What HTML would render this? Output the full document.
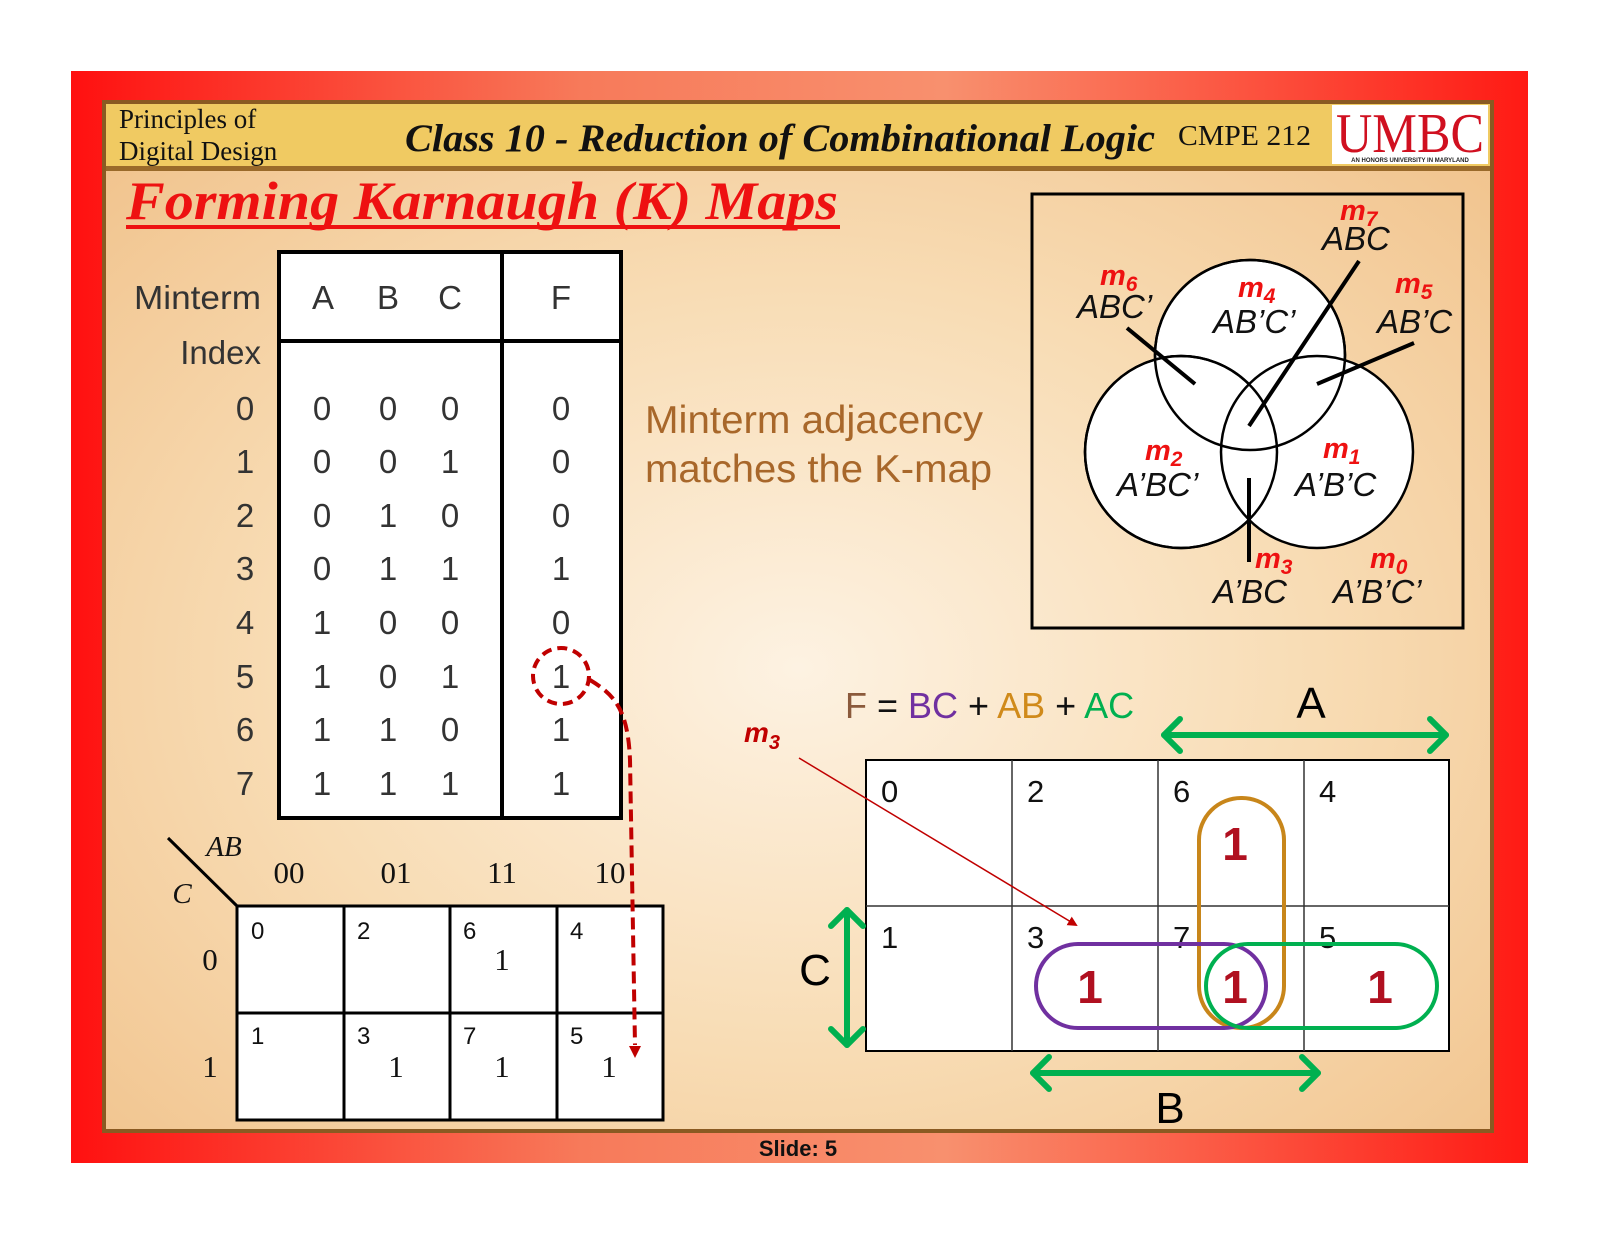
<!DOCTYPE html>
<html><head><meta charset="utf-8"><style>
html,body{margin:0;padding:0;background:#fff;}
svg{display:block;}
.sans{font-family:"Liberation Sans",Arial,sans-serif;}
.serif{font-family:"Liberation Serif","Times New Roman",serif;}
</style></head><body>
<svg width="1600" height="1236" viewBox="0 0 1600 1236" xmlns="http://www.w3.org/2000/svg">
<defs>
<linearGradient id="red" x1="0" y1="0" x2="1" y2="0">
<stop offset="0" stop-color="#ff1010"/><stop offset="0.35" stop-color="#f77a5a"/><stop offset="0.6" stop-color="#f8906e"/><stop offset="1" stop-color="#ff1a14"/>
</linearGradient>
<radialGradient id="peach" cx="0.5" cy="0.55" r="0.75">
<stop offset="0" stop-color="#fdf2e2"/><stop offset="0.5" stop-color="#f8dcb4"/><stop offset="1" stop-color="#f0c088"/>
</radialGradient>
<marker id="ah" markerWidth="10" markerHeight="10" refX="8" refY="5" orient="auto" markerUnits="userSpaceOnUse">
<path d="M0,0 L10,5 L0,10 z" fill="#c00000"/></marker>
</defs>
<rect x="71" y="71" width="1457" height="1092" fill="url(#red)"/>
<rect x="104" y="102" width="1388" height="1029" fill="url(#peach)" stroke="#8a5a22" stroke-width="4"/>
<rect x="106" y="104" width="1384" height="64" fill="#f0ca62"/>
<rect x="106" y="166" width="1384" height="5" fill="#9a6a2a"/>
<text x="119" y="128" class="serif" font-size="27" fill="#111">Principles of</text>
<text x="119" y="160" class="serif" font-size="27" fill="#111">Digital Design</text>
<text x="405" y="151" class="serif" font-size="39" font-weight="bold" font-style="italic" fill="#111" textLength="750" lengthAdjust="spacingAndGlyphs">Class 10 - Reduction of Combinational Logic</text>
<text x="1178" y="145" class="serif" font-size="29" fill="#111" textLength="133" lengthAdjust="spacingAndGlyphs">CMPE 212</text>
<rect x="1332" y="105" width="156" height="59" fill="#fff"/>
<text x="1410" y="152" class="serif" font-size="56" fill="#d01020" text-anchor="middle" textLength="148" lengthAdjust="spacingAndGlyphs">UMBC</text>
<text x="1410" y="162" class="sans" font-size="6" font-weight="bold" fill="#222" text-anchor="middle">AN HONORS UNIVERSITY IN MARYLAND</text>
<text x="126" y="219" class="serif" font-size="54" font-weight="bold" font-style="italic" fill="#ee1111" textLength="712" lengthAdjust="spacingAndGlyphs">Forming Karnaugh (K) Maps</text>
<rect x="126" y="225" width="714" height="4" fill="#ee1111"/>

<!-- truth table -->
<rect x="279" y="252" width="342" height="566" fill="#fff" stroke="#000" stroke-width="4"/>
<line x1="502" y1="252" x2="502" y2="818" stroke="#000" stroke-width="4"/>
<line x1="279" y1="341" x2="621" y2="341" stroke="#000" stroke-width="4"/>
<g class="sans" font-size="33" fill="#333" text-anchor="middle">
<text x="261" y="309" text-anchor="end" textLength="127" lengthAdjust="spacingAndGlyphs">Minterm</text>
<text x="261" y="364" text-anchor="end">Index</text>
<text x="323" y="309">A</text><text x="388" y="309">B</text><text x="450" y="309">C</text><text x="561" y="309">F</text>
<text x="245" y="420">0</text><text x="322" y="420">0</text><text x="388" y="420">0</text><text x="450" y="420">0</text><text x="561" y="420">0</text>
<text x="245" y="473">1</text><text x="322" y="473">0</text><text x="388" y="473">0</text><text x="450" y="473">1</text><text x="561" y="473">0</text>
<text x="245" y="527">2</text><text x="322" y="527">0</text><text x="388" y="527">1</text><text x="450" y="527">0</text><text x="561" y="527">0</text>
<text x="245" y="580">3</text><text x="322" y="580">0</text><text x="388" y="580">1</text><text x="450" y="580">1</text><text x="561" y="580">1</text>
<text x="245" y="634">4</text><text x="322" y="634">1</text><text x="388" y="634">0</text><text x="450" y="634">0</text><text x="561" y="634">0</text>
<text x="245" y="688">5</text><text x="322" y="688">1</text><text x="388" y="688">0</text><text x="450" y="688">1</text><text x="561" y="688">1</text>
<text x="245" y="741">6</text><text x="322" y="741">1</text><text x="388" y="741">1</text><text x="450" y="741">0</text><text x="561" y="741">1</text>
<text x="245" y="795">7</text><text x="322" y="795">1</text><text x="388" y="795">1</text><text x="450" y="795">1</text><text x="561" y="795">1</text>
</g>

<text x="645" y="433" class="sans" font-size="39" fill="#a8672a" textLength="338" lengthAdjust="spacingAndGlyphs">Minterm adjacency</text>
<text x="645" y="482" class="sans" font-size="39" fill="#a8672a" textLength="347" lengthAdjust="spacingAndGlyphs">matches the K-map</text>

<!-- small kmap -->
<rect x="237" y="906" width="426" height="214" fill="#fff" stroke="#000" stroke-width="3"/>
<g stroke="#000" stroke-width="3">
<line x1="344" y1="906" x2="344" y2="1120"/><line x1="450" y1="906" x2="450" y2="1120"/><line x1="557" y1="906" x2="557" y2="1120"/>
<line x1="237" y1="1013" x2="663" y2="1013"/>
<line x1="168" y1="838" x2="237" y2="906"/>
</g>
<g class="serif" font-size="31" fill="#111" text-anchor="middle">
<text x="224" y="856" font-style="italic" font-size="29">AB</text>
<text x="182" y="903" font-style="italic" font-size="29">C</text>
<text x="289" y="883">00</text><text x="396" y="883">01</text><text x="502" y="883">11</text><text x="610" y="883">10</text>
<text x="210" y="970">0</text><text x="210" y="1077">1</text>
<text x="502" y="970">1</text><text x="396" y="1077">1</text><text x="502" y="1077">1</text><text x="609" y="1077">1</text>
</g>
<g class="sans" font-size="24" fill="#111">
<text x="251" y="939">0</text><text x="357" y="939">2</text><text x="463" y="939">6</text><text x="570" y="939">4</text>
<text x="251" y="1044">1</text><text x="357" y="1044">3</text><text x="463" y="1044">7</text><text x="570" y="1044">5</text>
</g>
<circle cx="561" cy="676" r="28" fill="none" stroke="#c00000" stroke-width="4" stroke-dasharray="10,6"/>
<path d="M590,680 C615,695 628,710 630,760 L635,1045" fill="none" stroke="#c00000" stroke-width="4" stroke-dasharray="12,6"/>
<path d="M629,1046 L641,1046 L635,1058 z" fill="#c00000"/>

<!-- venn -->
<rect x="1032" y="194" width="431" height="434" fill="none" stroke="#000" stroke-width="3"/>
<g fill="#fff" stroke="#000" stroke-width="2.5">
<circle cx="1250" cy="355" r="95"/><circle cx="1181" cy="452" r="96"/><circle cx="1317" cy="452" r="96"/>
</g>
<g fill="none" stroke="#000" stroke-width="2.5">
<circle cx="1250" cy="355" r="95"/><circle cx="1181" cy="452" r="96"/>
</g>
<g stroke="#000" stroke-width="4">
<line x1="1127" y1="328" x2="1195" y2="384"/>
<line x1="1359" y1="261" x2="1249" y2="426"/>
<line x1="1414" y1="343" x2="1317" y2="384"/>
<line x1="1249" y1="478" x2="1249" y2="562"/>
</g>
<g class="sans" font-style="italic" font-size="33" fill="#111">
<text x="1322" y="250">ABC</text><text x="1077" y="318">ABC’</text><text x="1213" y="333">AB’C’</text><text x="1377" y="333">AB’C</text>
<text x="1117" y="496">A’BC’</text><text x="1295" y="496">A’B’C</text><text x="1213" y="603">A’BC</text><text x="1333" y="603">A’B’C’</text>
</g>
<g class="sans" font-style="italic" font-weight="bold" font-size="29" fill="#ee1111">
<text x="1340" y="220">m<tspan font-size="21" dy="6">7</tspan></text>
<text x="1100" y="285">m<tspan font-size="21" dy="6">6</tspan></text>
<text x="1238" y="297">m<tspan font-size="21" dy="6">4</tspan></text>
<text x="1395" y="293">m<tspan font-size="21" dy="6">5</tspan></text>
<text x="1145" y="460">m<tspan font-size="21" dy="6">2</tspan></text>
<text x="1323" y="458">m<tspan font-size="21" dy="6">1</tspan></text>
<text x="1255" y="568">m<tspan font-size="21" dy="6">3</tspan></text>
<text x="1370" y="568">m<tspan font-size="21" dy="6">0</tspan></text>
</g>

<!-- big kmap -->
<text x="845" y="718" class="sans" font-size="36"><tspan fill="#8b5a3c">F</tspan><tspan fill="#111"> = </tspan><tspan fill="#7030a0">BC</tspan><tspan fill="#111"> + </tspan><tspan fill="#d08a1a">AB</tspan><tspan fill="#111"> + </tspan><tspan fill="#00b050">AC</tspan></text>
<text x="1311" y="718" class="sans" font-size="44" fill="#000" text-anchor="middle">A</text>
<text x="744" y="742" class="sans" font-size="28" font-weight="bold" font-style="italic" fill="#c00000">m<tspan font-size="20" dy="7">3</tspan></text>
<rect x="866" y="760" width="583" height="291" fill="#fff" stroke="#000" stroke-width="2"/>
<g stroke="#333" stroke-width="1.5">
<line x1="1012" y1="760" x2="1012" y2="1051"/><line x1="1158" y1="760" x2="1158" y2="1051"/><line x1="1304" y1="760" x2="1304" y2="1051"/>
<line x1="866" y1="906" x2="1449" y2="906"/>
</g>
<g class="sans" font-size="31" fill="#111">
<text x="881" y="802">0</text><text x="1027" y="802">2</text><text x="1173" y="802">6</text><text x="1319" y="802">4</text>
<text x="881" y="948">1</text><text x="1027" y="948">3</text><text x="1173" y="948">7</text><text x="1319" y="948">5</text>
</g>
<g fill="none" stroke-width="4">
<rect x="1199" y="798" width="85" height="230" rx="42" stroke="#c8861a"/>
<rect x="1036" y="944" width="230" height="84" rx="42" stroke="#7030a0"/>
<rect x="1206" y="944" width="231" height="84" rx="42" stroke="#00b050"/>
</g>
<g class="sans" font-size="46" font-weight="bold" fill="#b01020" text-anchor="middle">
<text x="1235" y="860">1</text><text x="1090" y="1003">1</text><text x="1235" y="1003">1</text><text x="1380" y="1003">1</text>
</g>
<line x1="799" y1="758" x2="1076" y2="925" stroke="#c00000" stroke-width="1.5" marker-end="url(#ah)"/>
<g stroke="#00b050" stroke-width="6" fill="none" stroke-linecap="round" stroke-linejoin="round">
<line x1="1164" y1="735" x2="1446" y2="735"/><polyline points="1180,719 1164,735 1180,751"/><polyline points="1430,719 1446,735 1430,751"/>
<line x1="847" y1="910" x2="847" y2="1045"/><polyline points="831,926 847,910 863,926"/><polyline points="831,1029 847,1045 863,1029"/>
<line x1="1033" y1="1073" x2="1318" y2="1073"/><polyline points="1049,1057 1033,1073 1049,1089"/><polyline points="1302,1057 1318,1073 1302,1089"/>
</g>
<text x="815" y="985" class="sans" font-size="44" fill="#000" text-anchor="middle">C</text>
<text x="1170" y="1123" class="sans" font-size="44" fill="#000" text-anchor="middle">B</text>
<text x="798" y="1156" class="sans" font-size="22" font-weight="bold" fill="#111" text-anchor="middle">Slide: 5</text>
</svg>
</body></html>
